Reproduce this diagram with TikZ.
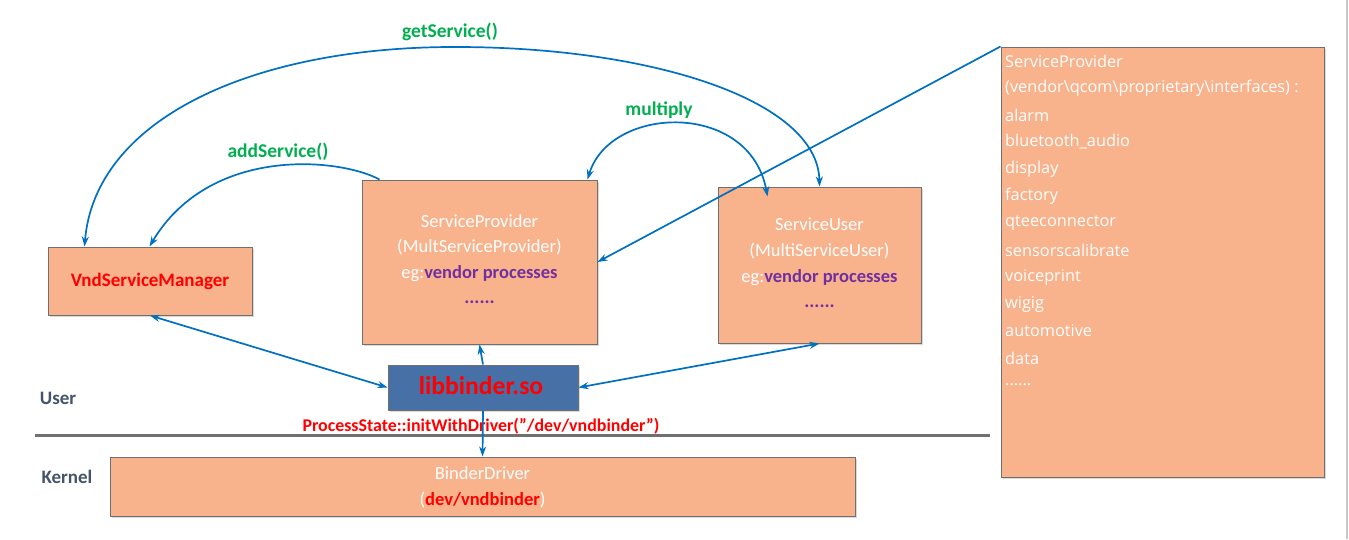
\documentclass[tikz,border=0pt]{standalone}
\usepackage{fontspec}
\setmainfont{Carlito}
\newfontfamily\listfont{Open Sans}
\usetikzlibrary{arrows.meta,calc,shadows}
\definecolor{peach}{RGB}{248,178,140}
\definecolor{boxline}{RGB}{112,112,112}
\definecolor{arrblue}{RGB}{0,112,192}
\definecolor{libblue}{RGB}{70,112,166}
\definecolor{lblgreen}{RGB}{0,176,80}
\definecolor{vpurple}{RGB}{112,48,160}
\definecolor{layer}{RGB}{68,84,106}
\begin{document}
\begin{tikzpicture}[x=1pt,y=-1pt,
  box/.style={draw=boxline, fill=peach, line width=1pt, inner sep=0pt,
    drop shadow={shadow xshift=2pt, shadow yshift=-2pt, opacity=0.15, fill=black}},
  wtext/.style={text=white, font=\fontsize{18.5}{20}\selectfont, inner sep=0pt},
  btext/.style={font=\fontsize{19}{21}\selectfont\bfseries, inner sep=0pt},
  ltext/.style={text=white, font=\listfont\fontsize{16.3}{19}\selectfont, inner sep=0pt, anchor=west},
  glabel/.style={text=lblgreen, font=\fontsize{19.5}{21}\selectfont\bfseries, inner sep=0pt},
  arr/.style={draw=arrblue, line width=1.7pt},
  tip/.style={-{Stealth[length=10pt,width=7pt]}},
  tipboth/.style={{Stealth[length=10pt,width=7pt]}-{Stealth[length=10pt,width=7pt]}}
]
\useasboundingbox (0,0) rectangle (1349,539);
\fill[white] (0,0) rectangle (1349,539);
\draw[line width=2pt, draw=black!22] (1347,0) -- (1347,539);

% boxes
\node[box, minimum width=204pt, minimum height=68pt] (vsm) at (150,281) {};
\node[btext, text=red] (vsmt) at (150,281) {VndServiceManager};

\node[box, minimum width=235pt, minimum height=164pt] (sp) at (479.5,262) {};
\node[wtext] (sp1) at (479.5,221) {ServiceProvider};
\node[wtext] (sp2) at (479.5,247) {(MultServiceProvider)};
\node[wtext] (sp3) at (479.5,274) {eg:\textcolor{vpurple}{\bfseries vendor processes}};
\node[btext, text=vpurple] (sp4) at (479.5,302) {......};

\node[box, minimum width=203pt, minimum height=156pt] (su) at (819.5,265) {};
\node[wtext] (su1) at (819.5,224) {ServiceUser};
\node[wtext] (su2) at (819.5,251) {(MultiServiceUser)};
\node[wtext] (su3) at (819.5,278) {eg:\textcolor{vpurple}{\bfseries vendor processes}};
\node[btext, text=vpurple] (su4) at (819.5,306) {......};

\node[draw=boxline, fill=libblue, line width=1pt, inner sep=0pt, minimum width=190pt, minimum height=45pt,
  drop shadow={shadow xshift=2pt, shadow yshift=-2pt, opacity=0.15, fill=black}] (lib) at (483,387.5) {};
\node[text=red, font=\fontsize{25.6}{28}\selectfont\bfseries, inner sep=0pt] (libt) at (481,386) {libbinder.so};

\node[box, minimum width=745pt, minimum height=59pt] (drv) at (482.5,486.5) {};
\node[wtext] (drv1) at (482.5,473) {BinderDriver};
\node[wtext] (drv2) at (482.5,500) {(\textcolor{red}{\bfseries dev/vndbinder})};

\node[box, minimum width=323pt, minimum height=430pt] (rb) at (1162.5,262) {};
\node[ltext] (r1) at (1005,61) {ServiceProvider};
\node[ltext] (r2) at (1005,88) {(vendor\textbackslash qcom\textbackslash proprietary\textbackslash interfaces) :};
\node[ltext] (r3) at (1005,115) {alarm};
\node[ltext] (r4) at (1005,142) {bluetooth\_audio};
\node[ltext] (r5) at (1005,169) {display};
\node[ltext] (r6) at (1005,196) {factory};
\node[ltext] (r7) at (1005,223) {qteeconnector};
\node[ltext] (r8) at (1005,250) {sensorscalibrate};
\node[ltext] (r9) at (1005,277) {voiceprint};
\node[ltext] (r10) at (1005,304) {wigig};
\node[ltext] (r11) at (1005,331) {automotive};
\node[ltext] (r12) at (1005,358) {data};
\node[ltext] (r13) at (1005,385) {......};

% layer separator and labels
\draw[line width=3pt, draw=boxline] (35,435) -- (990,435);
\node[btext, text=layer, font=\fontsize{19}{21}\selectfont\bfseries] (user) at (58,398) {User};
\node[btext, text=layer, font=\fontsize{19}{21}\selectfont\bfseries] (kernel) at (67,477) {Kernel};
\node[btext, text=red, font=\fontsize{17.9}{20}\selectfont\bfseries] (ps) at (481,426) {ProcessState::initWithDriver(\symbol{34}/dev/vndbinder\symbol{34})};

% green labels
\node[glabel] (gs) at (450,32) {getService()};
\node[glabel] (as) at (278,152) {addService()};
\node[glabel] (mu) at (659,110) {multiply};

% connectors
\draw[arr, tipboth] ([xshift=37pt]vsm.north west) .. controls (95,120) and (250,48) .. (450,47)
  .. controls (650,46) and (818,100) .. ([xshift=102pt]su.north west);
\draw[arr, tip] ([xshift=18pt]sp.north west) .. controls (340,158) and (210,145) .. ([xshift=102pt]vsm.north west);
\draw[arr, tipboth] ([xshift=-10pt]sp.north east) .. controls (610,105) and (750,100) .. ([xshift=50pt,yshift=-10pt]su.north west);
\draw[arr, tip] (rb.north west) -- (sp.east);
\draw[arr, tipboth] (vsm.south) -- (lib.west);
\draw[arr, tipboth] (lib.east) -- (su.south);
\draw[arr, tip] (lib.north) -- (sp.south);
\draw[arr, tip] (lib.south) -- (drv.north);
\end{tikzpicture}
\end{document}
